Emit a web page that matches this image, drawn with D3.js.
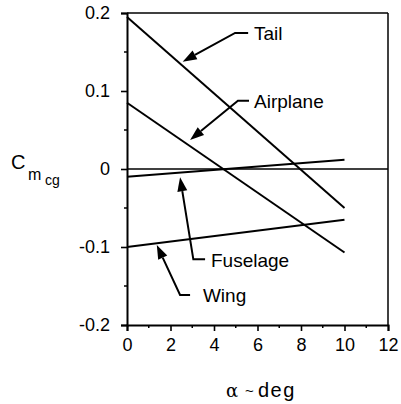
<!DOCTYPE html>
<html><head><meta charset="utf-8">
<script src="https://cdn.jsdelivr.net/npm/d3@7"></script>
<style>body{margin:0;background:#fff}svg{display:block}text{font-family:"Liberation Sans",Arial,sans-serif;fill:#000}</style>
</head><body>
<script>
const alpha = [0, 10];
const tail = [0.195, -0.05];
const airplane = [0.085, -0.107];
const fuselage = [-0.01, 0.012];
const wing = [-0.1, -0.065];
const seriesNames = ["Tail", "Airplane", "Fuselage", "Wing"];
const xTicks = [0, 2, 4, 6, 8, 10, 12];
const yTicks = [-0.2, -0.1, 0, 0.1, 0.2];
const yTickLabels = ["-0.2", "-0.1", "0", "0.1", "0.2"];
// annotation arrows in data units: tip, elbow, leader end, label start
const annTip = [[2.56, 0.1376], [2.9, 0.0372], [2.44, -0.0106], [1.37, -0.0974]];
const annElbow = [[4.97, 0.1744], [5.10, 0.0876], [3.05, -0.1158], [2.44, -0.1615]];
const annEnd = [[5.57, 0.1744], [5.61, 0.0876], [3.59, -0.1158], [2.90, -0.1615]];
const annTextX = [5.84, 5.84, 3.86, 3.49];

const W = 401, H = 404;
const svg = d3.select("body").append("svg").attr("width", W).attr("height", H);
const x = d3.scaleLinear().domain([0, 12]).range([127, 388]);
const y = d3.scaleLinear().domain([-0.2, 0.2]).range([325, 13]);

// frame top & right
svg.append("line").attr("x1", x(0)).attr("x2", x(12)).attr("y1", y(0.2)).attr("y2", y(0.2)).attr("stroke", "#000").attr("stroke-width", 1.5);
svg.append("line").attr("x1", x(12)).attr("x2", x(12)).attr("y1", y(0.2)).attr("y2", y(-0.2)).attr("stroke", "#000").attr("stroke-width", 1.5);

// axes
const xAxis = d3.axisBottom(x).tickValues(xTicks).tickSize(6).tickPadding(7).tickFormat(d3.format("d"));
const gx = svg.append("g").attr("transform", `translate(0,${y(-0.2)})`).call(xAxis);
const yAxis = d3.axisLeft(y).tickValues(yTicks).tickSize(6).tickPadding(11).tickFormat((d, i) => yTickLabels[i]);
const gy = svg.append("g").attr("transform", `translate(${x(0)},0)`).call(yAxis);
[gx, gy].forEach(g => {
  g.select(".domain").attr("stroke-width", 2).attr("stroke", "#000");
  g.selectAll(".tick line").attr("stroke-width", 1.6).attr("stroke", "#000");
  g.selectAll("text").attr("font-size", 18).attr("font-family", '"Liberation Sans",Arial,sans-serif').attr("fill", "#000");
});
// minor ticks
const minorX = d3.range(1, 12, 2);
svg.append("g").selectAll("line").data(minorX).join("line")
  .attr("x1", d => x(d)).attr("x2", d => x(d)).attr("y1", y(-0.2)).attr("y2", y(-0.2) + 3).attr("stroke", "#000").attr("stroke-width", 1.5);
const minorY = [-0.15, -0.05, 0.05, 0.15];
svg.append("g").selectAll("line").data(minorY).join("line")
  .attr("x1", x(0) - 3).attr("x2", x(0)).attr("y1", d => y(d)).attr("y2", d => y(d)).attr("stroke", "#000").attr("stroke-width", 1.5);

// zero line
svg.append("line").attr("x1", x(0)).attr("x2", x(12)).attr("y1", y(0)).attr("y2", y(0)).attr("stroke", "#000").attr("stroke-width", 1.5);

// series
const line = d3.line().x(d => x(d[0])).y(d => y(d[1]));
[tail, airplane, fuselage, wing].forEach(s => {
  svg.append("path").datum(alpha.map((a, i) => [a, s[i]])).attr("d", line)
    .attr("fill", "none").attr("stroke", "#000").attr("stroke-width", 2);
});

// annotations
seriesNames.forEach((name, i) => {
  const tp = [x(annTip[i][0]), y(annTip[i][1])];
  const el = [x(annElbow[i][0]), y(annElbow[i][1])];
  const en = [x(annEnd[i][0]), y(annEnd[i][1])];
  const ang = Math.atan2(tp[1] - el[1], tp[0] - el[0]);
  const L = 14, hw = 5;
  const bx = tp[0] - L * Math.cos(ang), by = tp[1] - L * Math.sin(ang);
  svg.append("path").attr("d", d3.line()([en, el, [bx, by]])).attr("fill", "none").attr("stroke", "#000").attr("stroke-width", 2);
  svg.append("path").attr("d", d3.line()([tp,
    [bx + hw * Math.sin(ang), by - hw * Math.cos(ang)],
    [bx - hw * Math.sin(ang), by + hw * Math.cos(ang)]]) + "Z").attr("fill", "#000");
  svg.append("text").attr("x", x(annTextX[i])).attr("y", en[1] + 7.5).attr("font-size", 19).text(name);
});

// y label
const yl = svg.append("text").attr("x", 11).attr("y", 169);
yl.append("tspan").attr("font-size", 20).text("C");
yl.append("tspan").attr("font-size", 16).attr("x", 28).attr("y", 180).text("m");
yl.append("tspan").attr("font-size", 14).attr("x", 45).attr("y", 185).text("cg");

// x label
const xl = svg.append("text").attr("y", 397).attr("font-size", 19);
xl.append("tspan").attr("x", 226).attr("font-family", '"DejaVu Serif",serif').attr("font-size", 18).text("α");
xl.append("tspan").attr("x", 245).attr("font-size", 15).attr("dy", -1).text("~");
xl.append("tspan").attr("x", 258).attr("dy", 1).attr("font-size", 20).attr("letter-spacing", 1.5).text("deg");
</script>
</body></html>
